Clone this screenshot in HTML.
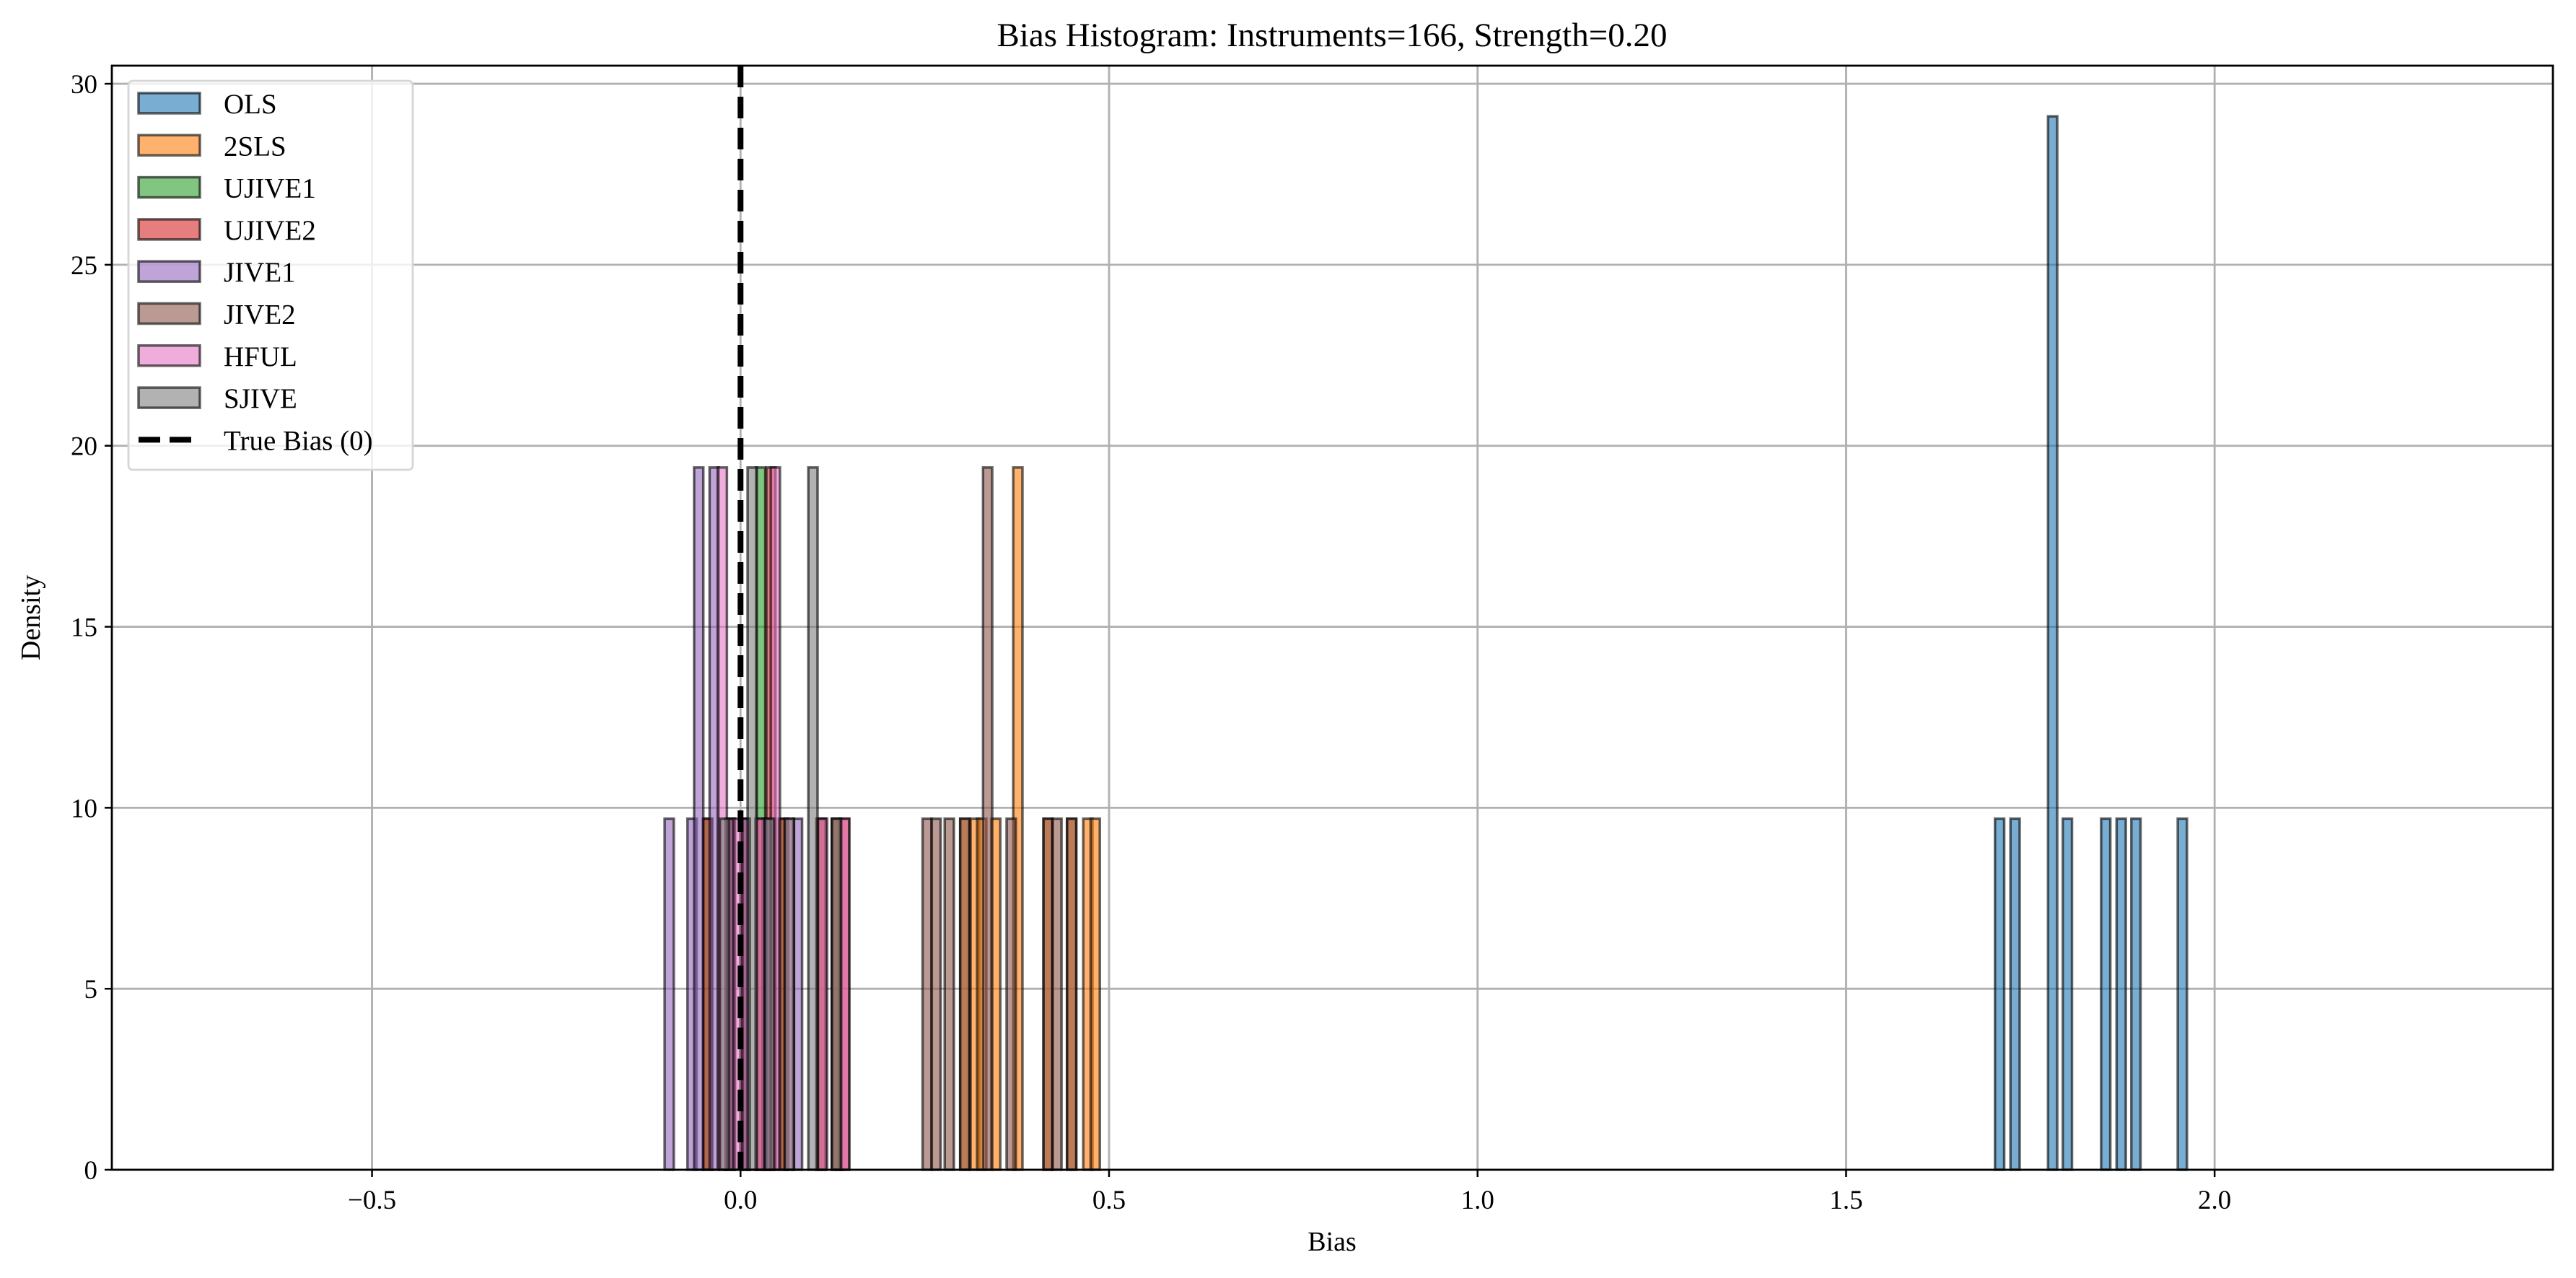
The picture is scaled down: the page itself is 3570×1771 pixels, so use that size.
<!DOCTYPE html>
<html><head><meta charset="utf-8"><style>
html,body{margin:0;padding:0;background:#fff;}
svg{display:block;font-family:"Liberation Serif","DejaVu Serif",serif;}
</style></head><body>
<svg id="chart" width="3570" height="1771" viewBox="0 0 3570 1771" xmlns="http://www.w3.org/2000/svg">
<rect x="0" y="0" width="3570" height="1771" fill="#fff"/>
<text x="1846" y="64" font-size="47" text-anchor="middle">Bias Histogram: Instruments=166, Strength=0.20</text>
<g id="grid"></g>
<g id="bars"></g>
<g id="axes"></g>
<text x="1846" y="1733" font-size="38" text-anchor="middle">Bias</text>
<text x="0" y="0" font-size="38" text-anchor="middle" transform="translate(55,856) rotate(-90)">Density</text>
<g id="legend"></g>
</svg>
<script>
// ---- data ----
const seriesNames = ["OLS","2SLS","UJIVE1","UJIVE2","JIVE1","JIVE2","HFUL","SJIVE"];
const seriesColors = ["#1f77b4","#ff7f0e","#2ca02c","#d62728","#9467bd","#8c564b","#e377c2","#7f7f7f"];
const olsBins = [1.702,1.723,1.774,1.794,1.846,1.867,1.887,1.950];
const olsDensity = [9.7,9.7,29.1,9.7,9.7,9.7,9.7,9.7];
const tslsBins = [0.298,0.312,0.321,0.340,0.370,0.411,0.443,0.465,0.475];
const tslsDensity = [9.7,9.7,9.7,9.7,19.4,9.7,9.7,9.7,9.7];
const ujive1Bins = [-0.051,-0.020,0.0,0.021,0.035,0.052,0.103,0.124];
const ujive1Density = [9.7,9.7,9.7,19.4,9.7,9.7,9.7,9.7];
const ujive2Bins = [-0.051,-0.020,0.0,0.022,0.035,0.052,0.103,0.124,0.135];
const ujive2Density = [9.7,9.7,9.7,9.7,19.4,9.7,9.7,9.7,9.7];
const jive1Bins = [-0.103,-0.072,-0.063,-0.042,-0.021,0.0,0.030,0.071];
const jive1Density = [9.7,9.7,19.4,19.4,9.7,9.7,9.7,9.7];
const jive2Bins = [0.247,0.259,0.277,0.298,0.329,0.361,0.411,0.423,0.443];
const jive2Density = [9.7,9.7,9.7,9.7,19.4,9.7,9.7,9.7,9.7];
const hfulBins = [-0.031,-0.010,0.020,0.041,0.060,0.105,0.135];
const hfulDensity = [19.4,9.7,9.7,19.4,9.7,9.7,9.7];
const sjiveBins = [-0.028,0.0096,0.033,0.060,0.092,0.124];
const sjiveDensity = [9.7,19.4,9.7,9.7,19.4,9.7];
const xTicks = [-0.5,0.0,0.5,1.0,1.5,2.0];
const xTickLabels = ["\u22120.5","0.0","0.5","1.0","1.5","2.0"];
const yTicks = [0,5,10,15,20,25,30];
const yTickLabels = ["0","5","10","15","20","25","30"];
const binWidth = 0.0125;
const allBins = [olsBins,tslsBins,ujive1Bins,ujive2Bins,jive1Bins,jive2Bins,hfulBins,sjiveBins];
const allDensity = [olsDensity,tslsDensity,ujive1Density,ujive2Density,jive1Density,jive2Density,hfulDensity,sjiveDensity];

// ---- scales ----
const L=155,R=3538,T=91,B=1621;
const XMIN=-0.853,XMAX=2.459,YMIN=0,YMAX=30.5;
const sx=v=>L+(v-XMIN)/(XMAX-XMIN)*(R-L);
const sy=v=>B-(v-YMIN)/(YMAX-YMIN)*(B-T);
const NS="http://www.w3.org/2000/svg";
function mk(tag,attrs,parent){const e=document.createElementNS(NS,tag);for(const k in attrs)e.setAttribute(k,attrs[k]);parent.appendChild(e);return e;}

const grid=document.getElementById('grid');
xTicks.forEach((t,i)=>{
  const g=mk('line',{x1:sx(t),x2:sx(t),y1:T,y2:B,stroke:'#b0b0b0','stroke-width':2.8},grid);
  
  
});
yTicks.forEach((t,i)=>{
  const g=mk('line',{x1:L,x2:R,y1:sy(t),y2:sy(t),stroke:'#b0b0b0','stroke-width':2.8},grid);
  
  
});

const bars=document.getElementById('bars');
allBins.forEach((bins,si)=>{
  bins.forEach((b,j)=>{
    const x0=sx(b),x1=sx(b+binWidth),y=sy(allDensity[si][j]);
    const r=mk('rect',{x:x0,y:y,width:x1-x0,height:B-y,fill:seriesColors[si],'fill-opacity':0.6,stroke:'#000','stroke-opacity':0.6,'stroke-width':3.5},bars);
    
    
  });
});

const axes=document.getElementById('axes');
const tl=mk('line',{x1:sx(0),x2:sx(0),y1:T,y2:B,stroke:'#000','stroke-width':8,'stroke-dasharray':'30 13'},axes);


const frame=mk('rect',{x:L,y:T,width:R-L,height:B-T,fill:'none',stroke:'#000','stroke-width':2.8},axes);


xTicks.forEach((t,i)=>{
  mk('line',{x1:sx(t),x2:sx(t),y1:B,y2:B+10,stroke:'#000','stroke-width':2.5},axes);
  const tx=mk('text',{x:sx(t),y:B+54,'font-size':37,'text-anchor':'middle'},axes);
  tx.textContent=xTickLabels[i];
  
  
});
yTicks.forEach((t,i)=>{
  mk('line',{x1:L-10,x2:L,y1:sy(t),y2:sy(t),stroke:'#000','stroke-width':2.5},axes);
  const tx=mk('text',{x:L-20,y:sy(t)+13,'font-size':37,'text-anchor':'end'},axes);
  tx.textContent=yTickLabels[i];
  
  
});

const leg=document.getElementById('legend');
mk('rect',{x:178,y:112,width:394,height:539,rx:6,fill:'#fff','fill-opacity':0.8,stroke:'#d6d6d6','stroke-width':2.8},leg);
seriesNames.forEach((n,i)=>{
  const cy=143+i*58.3;
  const e=mk('g',{},leg);
  
  
  mk('rect',{x:192,y:cy-14,width:85,height:28,fill:seriesColors[i],'fill-opacity':0.6,stroke:'#000','stroke-opacity':0.6,'stroke-width':3.5},e);
  const t=mk('text',{x:310,y:cy+14,'font-size':39},e);
  t.textContent=n;
});
const cy=143+8*58.3;
const le=mk('g',{},leg);


mk('line',{x1:192,x2:267,y1:cy,y2:cy,stroke:'#000','stroke-width':8,'stroke-dasharray':'30 13'},le);
const lt=mk('text',{x:310,y:cy+14,'font-size':39},le);
lt.textContent="True Bias (0)";
</script>
</body></html>
